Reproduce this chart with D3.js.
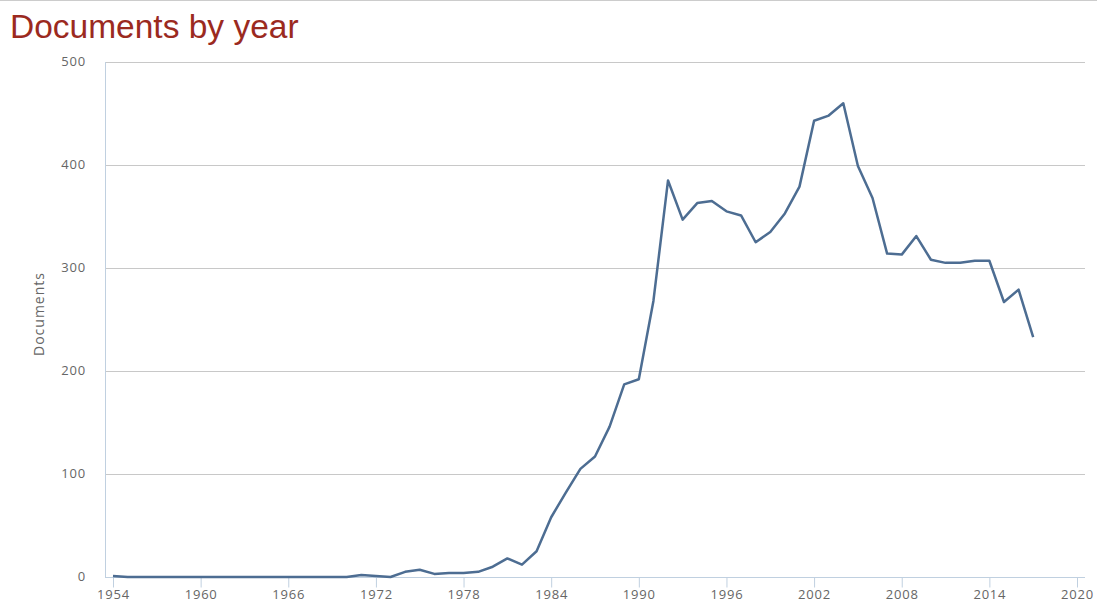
<!DOCTYPE html>
<meta charset="utf-8">
<style>
    body {margin: 0; font-family: 'Liberation Sans', Arial, sans-serif; background: #fff;}
    .tick text {fill: #666; font-size: 13px; letter-spacing: 0.8px; font-family: 'Open Sans', sans-serif;}
</style>

<svg width="1097" height="604"></svg>

<script src="https://cdnjs.cloudflare.com/ajax/libs/d3/7.8.5/d3.min.js"></script>
<script>

// data
var years = d3.range(1954, 2018);
var docs = [
    1, 0, 0, 0, 0, 0, 0, 0, 0, 0,          // 1954-1963
    0, 0, 0, 0, 0, 0, 0, 2, 1, 0,          // 1964-1973
    5, 7, 3, 4, 4, 5, 10, 18, 12, 25,      // 1974-1983
    58, 82, 105, 117, 146, 187, 192, 268, 385, 347,   // 1984-1993
    363, 365, 355, 351, 325, 335, 353, 379, 443, 448, // 1994-2003
    460, 399, 368, 314, 313, 331, 308, 305, 305, 307, // 2004-2013
    307, 267, 279, 233                      // 2014-2017
];
var xTicks = [1954, 1960, 1966, 1972, 1978, 1984, 1990, 1996, 2002, 2008, 2014, 2020];
var yTicks = [0, 100, 200, 300, 400, 500];

var svg = d3.select("svg"),
    width = +svg.attr("width"),
    height = +svg.attr("height");

// thin rule along the top of the page
svg.append("line")
    .attr("x1", 0).attr("x2", width)
    .attr("y1", 0.5).attr("y2", 0.5)
    .style("stroke", "#ccc");

svg.append("text")
    .attr("x", 10)
    .attr("y", 38)
    .style("fill", "#9b2a1f")
    .style("font-size", "33.5px")
    .text("Documents by year");

var x = d3.scaleLinear().domain([1954, 2020]).range([113, 1077]);
var y = d3.scaleLinear().domain([0, 500]).range([577, 62]);

// gridlines
svg.append("g")
    .selectAll("line")
    .data(yTicks.slice(1))
    .enter().append("line")
    .attr("x1", 105).attr("x2", 1085)
    .attr("y1", function(d) { return Math.round(y(d)) + 0.5; })
    .attr("y2", function(d) { return Math.round(y(d)) + 0.5; })
    .style("stroke", "#c8c8c8");

// y axis line
svg.append("line")
    .attr("x1", 105.5).attr("x2", 105.5)
    .attr("y1", 62).attr("y2", 577)
    .style("stroke", "#c0d0e0");

var yAxis = svg.append("g")
    .attr("transform", "translate(86,0)")
    .call(d3.axisLeft(y).tickValues(yTicks).tickSize(0).tickPadding(0));
yAxis.select(".domain").remove();
yAxis.selectAll(".tick text").attr("dy", "0.25em");

var xAxis = svg.append("g")
    .attr("transform", "translate(0,577.5)")
    .call(d3.axisBottom(x).tickValues(xTicks).tickFormat(d3.format("d")).tickSize(10).tickPadding(2));
xAxis.select(".domain").attr("d", "M105,0H1085").style("stroke", "#c0d0e0");
xAxis.selectAll(".tick line").style("stroke", "#c0d0e0");

svg.append("text")
    .attr("transform", "translate(44,314) rotate(-90)")
    .attr("text-anchor", "middle")
    .style("fill", "#666")
    .style("font-size", "14px")
    .style("letter-spacing", "1px")
    .style("font-family", "'Open Sans', sans-serif")
    .text("Documents");

var line = d3.line()
    .x(function(d, i) { return x(years[i]); })
    .y(function(d) { return y(d); });

svg.append("path")
    .datum(docs)
    .attr("d", line)
    .style("fill", "none")
    .style("stroke", "#4d6d92")
    .style("stroke-width", 2.5)
    .style("stroke-linejoin", "round");

</script>
